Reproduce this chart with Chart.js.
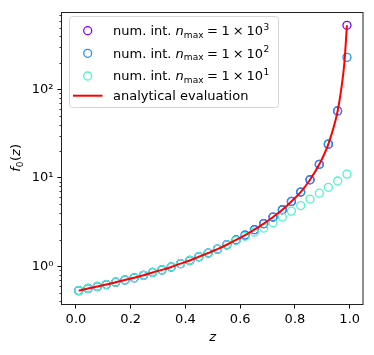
<!DOCTYPE html>
<html><head><meta charset="utf-8">
<script src="https://cdn.jsdelivr.net/npm/chart.js@4/dist/chart.umd.min.js"></script>
<style>html,body{margin:0;padding:0;background:#fff}canvas{display:block}</style>
</head><body>
<canvas id="c" width="374" height="355"></canvas>
<script>
// ---- data ----
const zValues = [0.010, 0.044, 0.078, 0.111, 0.145, 0.179, 0.213, 0.247, 0.280, 0.314,
                 0.348, 0.382, 0.416, 0.449, 0.483, 0.517, 0.551, 0.585, 0.618, 0.652,
                 0.686, 0.720, 0.754, 0.787, 0.821, 0.855, 0.889, 0.922, 0.956, 0.990];
const fNmax1e3 = [0.53, 0.56, 0.59, 0.62, 0.66, 0.70, 0.74, 0.79, 0.85, 0.91,
                  0.98, 1.07, 1.16, 1.28, 1.41, 1.56, 1.75, 1.98, 2.25, 2.59,
                  3.03, 3.60, 4.35, 5.40, 6.90, 9.50, 14.2, 24.0, 57.0, 530];
const fNmax1e2 = [0.53, 0.56, 0.59, 0.62, 0.66, 0.70, 0.74, 0.79, 0.85, 0.91,
                  0.98, 1.07, 1.16, 1.28, 1.41, 1.56, 1.75, 1.98, 2.25, 2.59,
                  3.03, 3.60, 4.35, 5.40, 6.90, 9.50, 14.2, 24.0, 57.0, 230];
const fNmax1e1 = [0.53, 0.56, 0.59, 0.62, 0.66, 0.70, 0.74, 0.79, 0.85, 0.91,
                  0.98, 1.07, 1.16, 1.28, 1.41, 1.56, 1.74, 1.95, 2.18, 2.43,
                  2.70, 3.10, 3.60, 4.20, 4.85, 5.75, 6.70, 7.80, 9.20, 11.0];
const curveZ = [0.010, 0.044, 0.078, 0.111, 0.145, 0.179, 0.213, 0.247, 0.280, 0.314,
                0.348, 0.382, 0.416, 0.449, 0.483, 0.517, 0.551, 0.585, 0.618, 0.652,
                0.686, 0.720, 0.754, 0.787, 0.821, 0.855, 0.889, 0.922, 0.956, 0.970, 0.980, 0.990];
const curveF = [0.53, 0.56, 0.59, 0.62, 0.66, 0.70, 0.74, 0.79, 0.85, 0.91,
                0.98, 1.07, 1.16, 1.28, 1.41, 1.56, 1.75, 1.98, 2.25, 2.59,
                3.03, 3.60, 4.35, 5.40, 6.90, 9.50, 14.2, 24.0, 57.0, 105, 190, 530];
const xTicks = [0.0, 0.2, 0.4, 0.6, 0.8, 1.0];
const yTicks = [1, 10, 100];
const yTickLabels = ['10\u2070', '10\u00b9', '10\u00b2'];
const seriesNames = ['num. int. n_max = 1 \u00d7 10^3', 'num. int. n_max = 1 \u00d7 10^2',
                     'num. int. n_max = 1 \u00d7 10^1', 'analytical evaluation'];
const legendExponents = ['3', '2', '1'];
const colors = ['#8000ff', '#1996f3', '#4df3ce', '#ff0000'];

const FAM = '"DejaVu Sans", sans-serif';
const FS = 13;
function pts(xs, ys) { return xs.map((x, i) => ({ x: x, y: ys[i] })); }

function drawParts(ctx, x, y, parts) {
  for (const p of parts) {
    x += p.gap || 0;
    ctx.font = (p.italic ? 'italic ' : '') + (p.size || FS) + 'px ' + FAM;
    ctx.fillText(p.t, x, y + (p.dy || 0));
    x += ctx.measureText(p.t).width;
  }
  return x;
}
function partsWidth(ctx, parts) {
  let w = 0;
  for (const p of parts) {
    w += p.gap || 0;
    ctx.font = (p.italic ? 'italic ' : '') + (p.size || FS) + 'px ' + FAM;
    w += ctx.measureText(p.t).width;
  }
  return w;
}

const decor = {
  id: 'decor',
  afterDraw(chart) {
    const { ctx, chartArea: a, scales: { y } } = chart;
    ctx.save();
    // minor y ticks
    ctx.strokeStyle = '#000'; ctx.lineWidth = 0.8;
    for (let e = -1; e <= 2; e++) {
      for (let m = 2; m <= 9; m++) {
        const v = m * Math.pow(10, e);
        if (v < y.min || v > y.max) continue;
        const py = Math.round(y.getPixelForValue(v)) + 0.5;
        ctx.beginPath(); ctx.moveTo(a.left - 2.5, py); ctx.lineTo(a.left, py); ctx.stroke();
      }
    }
    // frame
    ctx.lineWidth = 1; ctx.strokeStyle = '#222';
    ctx.strokeRect(Math.round(a.left) - 0.5, Math.round(a.top) + 0.5,
                   Math.round(a.right - a.left) + 0.5, Math.round(a.bottom - a.top));
    // x label
    ctx.fillStyle = '#000'; ctx.textBaseline = 'alphabetic'; ctx.textAlign = 'left';
    ctx.font = 'italic ' + FS + 'px ' + FAM;
    const zw = ctx.measureText('z').width;
    ctx.fillText('z', (a.left + a.right) / 2 - zw / 2, 341);
    // y label f0(z)
    const yl = [{ t: 'f', italic: true }, { t: '0', size: 9, dy: 2.5 }, { t: '(' , gap: 0.5}, { t: 'z', italic: true }, { t: ')' }];
    ctx.save();
    ctx.translate(20, (a.top + a.bottom) / 2);
    ctx.rotate(-Math.PI / 2);
    drawParts(ctx, -partsWidth(ctx, yl) / 2, 0, yl);
    ctx.restore();
    // legend
    const lx = 69.5, ly = 16.5, lw = 209, lh = 91, r = 3;
    ctx.beginPath();
    ctx.moveTo(lx + r, ly); ctx.lineTo(lx + lw - r, ly); ctx.arcTo(lx + lw, ly, lx + lw, ly + r, r);
    ctx.lineTo(lx + lw, ly + lh - r); ctx.arcTo(lx + lw, ly + lh, lx + lw - r, ly + lh, r);
    ctx.lineTo(lx + r, ly + lh); ctx.arcTo(lx, ly + lh, lx, ly + lh - r, r);
    ctx.lineTo(lx, ly + r); ctx.arcTo(lx, ly, lx + r, ly, r); ctx.closePath();
    ctx.fillStyle = 'rgba(255,255,255,0.8)'; ctx.fill();
    ctx.strokeStyle = '#d6d6d6'; ctx.lineWidth = 1; ctx.stroke();
    const centers = [30.7, 53.3, 76, 95.7];
    const baselines = [35.2, 57.8, 80.4, 100.3];
    ctx.fillStyle = '#000';
    for (let i = 0; i < 4; i++) {
      if (i < 3) {
        ctx.beginPath(); ctx.arc(87.7, centers[i], 4, 0, Math.PI * 2);
        ctx.strokeStyle = colors[i]; ctx.lineWidth = 1.3; ctx.stroke();
        const parts = [
          { t: 'num. int. ' }, { t: 'n', italic: true }, { t: 'max', size: 9, dy: 2.5 },
          { t: '=', gap: 3.6 }, { t: '1', gap: 3.6 }, { t: '\u00d7', gap: 2.9 }, { t: '10', gap: 2.9 },
          { t: legendExponents[i], size: 9, dy: -5.5, gap: 0.5 }
        ];
        ctx.fillStyle = '#000';
        drawParts(ctx, 113, baselines[i], parts);
      } else {
        ctx.beginPath(); ctx.moveTo(73, centers[i]); ctx.lineTo(102.5, centers[i]);
        ctx.strokeStyle = colors[i]; ctx.lineWidth = 2; ctx.stroke();
        ctx.fillStyle = '#000';
        drawParts(ctx, 113, baselines[i], [{ t: seriesNames[3] }]);
      }
    }
    ctx.restore();
  }
};

const scatterSet = (i, ys, order) => ({
  label: seriesNames[i], data: pts(zValues, ys), showLine: false,
  borderColor: colors[i], backgroundColor: 'rgba(0,0,0,0)',
  pointRadius: 4, pointBorderWidth: 1.3, pointHoverRadius: 4, order: order
});

new Chart(document.getElementById('c'), {
  type: 'scatter',
  data: {
    datasets: [
      scatterSet(0, fNmax1e3, 3),
      scatterSet(1, fNmax1e2, 2),
      scatterSet(2, fNmax1e1, 1),
      { label: seriesNames[3], data: pts(curveZ, curveF), showLine: true,
        borderColor: colors[3], backgroundColor: colors[3], borderWidth: 2,
        pointRadius: 0, cubicInterpolationMode: 'monotone', order: 0 }
    ]
  },
  options: {
    responsive: false, animation: false, devicePixelRatio: 1,
    layout: { padding: { left: 0, right: 10.7, top: 10, bottom: 0 } },
    plugins: { legend: { display: false }, tooltip: { enabled: false } },
    scales: {
      x: {
        type: 'linear', min: -0.051, max: 1.0497,
        afterBuildTicks: s => { s.ticks = xTicks.map(v => ({ value: v })); },
        afterFit: s => { s.height = 51; },
        ticks: { callback: v => Number(v).toFixed(1), font: { family: FAM, size: FS }, color: '#000',
                 padding: 3, maxRotation: 0, autoSkip: false },
        grid: { drawOnChartArea: false, tickLength: 4.5, color: '#000', lineWidth: 1 },
        border: { display: false }
      },
      y: {
        type: 'logarithmic', min: 0.374, max: 753,
        afterBuildTicks: s => { s.ticks = yTicks.map(v => ({ value: v })); },
        afterFit: s => { s.width = 62; },
        ticks: { callback: (v, i) => yTickLabels[i], font: { family: FAM, size: FS }, color: '#000',
                 padding: 4, autoSkip: false },
        grid: { drawOnChartArea: false, tickLength: 4.5, color: '#000', lineWidth: 1 },
        border: { display: false }
      }
    }
  },
  plugins: [decor]
});
</script>
</body></html>
